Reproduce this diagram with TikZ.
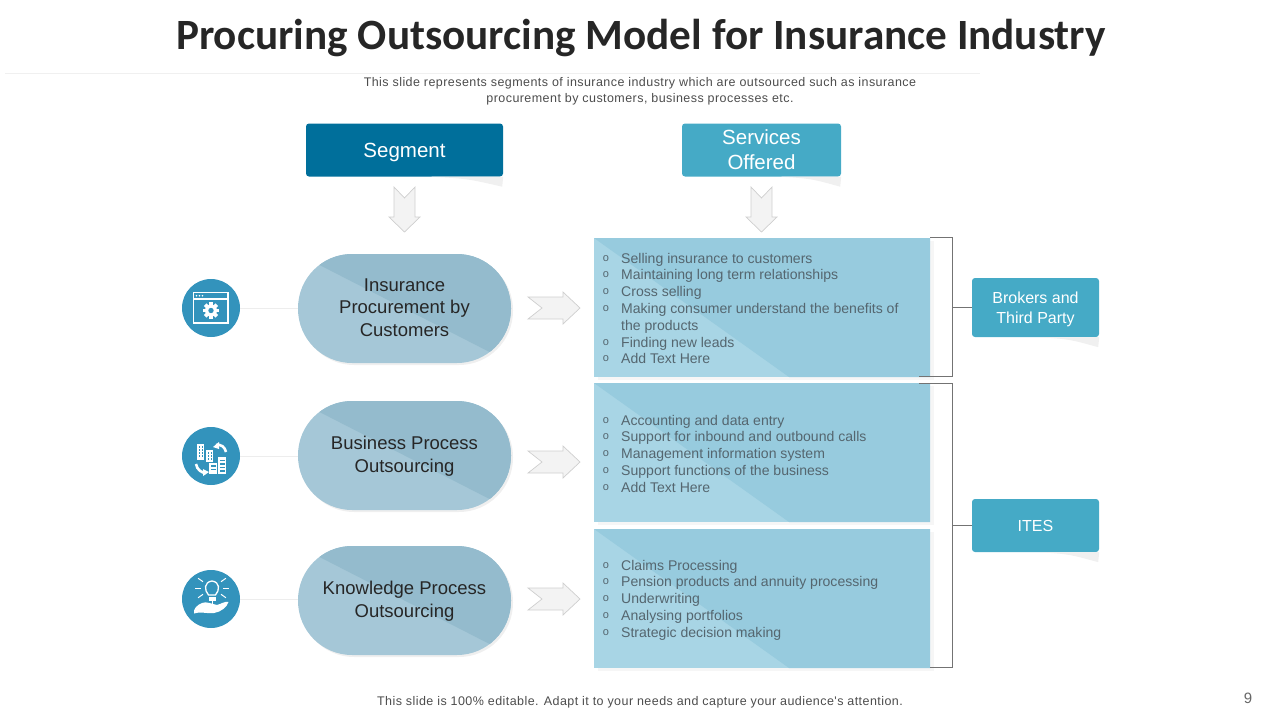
\documentclass[tikz,border=0pt]{standalone}
\usepackage{fontspec}
\setmainfont{Liberation Sans}
\newfontfamily\titlefont{Carlito}
\newfontfamily\notefont[LetterSpace=3.5]{Liberation Sans}
\usetikzlibrary{calc,shadows}

\definecolor{headdark}{HTML}{006F9B}
\definecolor{headlight}{HTML}{45AAC6}
\definecolor{iconblue}{HTML}{3393BC}
\definecolor{pilllight}{HTML}{A5C7D7}
\definecolor{pilldark}{HTML}{94BBCD}
\definecolor{panellight}{HTML}{A8D5E5}
\definecolor{paneldark}{HTML}{97CBDE}
\definecolor{arrowfill}{HTML}{F3F3F3}
\definecolor{arrowline}{HTML}{CFCFCF}
\definecolor{wedgegrey}{HTML}{F0F0F0}
\definecolor{listgrey}{HTML}{55666F}

\tikzset{
  headbox/.style={rounded corners=3pt, text=white, align=center, inner sep=0pt},
  segbox/.style={rounded corners=54pt, minimum width=213pt, minimum height=109pt, inner sep=0pt,
    fill=pilllight, align=center, font=\fontsize{18.5}{22.5}\selectfont, text=black!85, text depth=2pt,
    drop shadow={shadow xshift=2pt, shadow yshift=-2pt, fill=black!12},
    path picture={\fill[pilldark, sharp corners] (path picture bounding box.north west) -- (path picture bounding box.north east)
      -- (path picture bounding box.south east) -- cycle;}},
  panelbox/.style={minimum width=336pt, minimum height=139pt, inner sep=0pt, fill=panellight,
    drop shadow={shadow xshift=4pt, shadow yshift=-3pt, fill=black!7},
    path picture={\fill[paneldark] (path picture bounding box.north west) -- (path picture bounding box.north east)
      -- (path picture bounding box.south east) -- ($(path picture bounding box.south west)+(195pt,0)$) -- cycle;}},
  iconbox/.style={circle, fill=iconblue, minimum size=58pt, inner sep=0pt},
  linetext/.style={anchor=west, inner sep=0pt, text=listgrey, text height=12pt, text depth=2pt, font=\fontsize{14.05}{16}\selectfont},
  bullet/.style={inner sep=0pt, text=listgrey, font=\fontsize{11}{12}\selectfont},
  smalltext/.style={inner sep=0pt, text=black!70, font=\notefont\fontsize{12.5}{16.3}\selectfont, align=center},
  blockarrow/.style={fill=arrowfill, draw=arrowline, line width=0.7pt},
  lead/.style={draw=black!7, line width=0.7pt},
  brace/.style={draw=black!55, line width=0.7pt}
}

\begin{document}
\begin{tikzpicture}[x=1pt,y=-1pt]
\useasboundingbox (0,0) rectangle (1280,720);

% Title and notes
\node[inner sep=0pt, font=\titlefont\bfseries\fontsize{43.2}{50}\selectfont, text=black!85] (title) at (641,38) {Procuring Outsourcing Model for Insurance Industry};
\fill[black!6] (5,72.5) rectangle (980,73.5);
\node[smalltext] (note) at (640,91) {This slide represents segments of insurance industry which are outsourced such as insurance\\procurement by customers, business processes etc.};
\node[smalltext] (foot) at (640,702) {This slide is 100\% editable. Adapt it to your needs and capture your audience's attention.};
\node[inner sep=0pt, text=black!60, font=\fontsize{15}{18}\selectfont] (pagenum) at (1248,698) {9};

% Headers
\node[headbox, fill=headdark, minimum width=197pt, minimum height=53pt, text depth=0pt, font=\fontsize{20.5}{25}\selectfont] (seghead) at (404.5,150) {Segment};
\node[headbox, fill=headlight, minimum width=159pt, minimum height=53pt, font=\fontsize{20.5}{25}\selectfont] (svchead) at (761.5,150) {Services\\Offered};

% Right side boxes
\node[headbox, fill=headlight, minimum width=127pt, minimum height=59pt, text depth=0pt, font=\fontsize{16}{19.5}\selectfont] (brokers) at (1035.5,307.5) {Brokers and\\Third Party};
\node[headbox, fill=headlight, minimum width=127pt, minimum height=53pt, font=\fontsize{16}{19.5}\selectfont] (ites) at (1035.5,525.5) {ITES};

% Wedges below the boxes
\foreach \n/\w in {seghead/72,svchead/60,brokers/60,ites/60} {
  \fill[wedgegrey] ($(\n.south east)+(-\w,0)$) .. controls ($(\n.south east)+(-\w/2,2)$) .. ($(\n.south east)+(-1,10)$) -- (\n.south east) -- cycle;
}

% Down arrows
\foreach \x in {404.5,761.5} {
  \draw[blockarrow] (\x-10.5,187) -- (\x,198) -- (\x+10.5,187) -- (\x+10.5,217) -- (\x+15.5,217) -- (\x,232) -- (\x-15.5,217) -- (\x-10.5,217) -- cycle;
}

% Right arrows
\foreach \y in {308,462,599} {
  \draw[blockarrow] (528,\y-11) -- (563,\y-11) -- (563,\y-16) -- (580,\y) -- (563,\y+16) -- (563,\y+11) -- (528,\y+11) -- (542,\y) -- cycle;
}

% Rows
\foreach \i/\yi/\ys/\t in {1/308/308.5/{Insurance\\Procurement by\\Customers},2/456/455.5/{Business Process\\Outsourcing},3/599/600.5/{Knowledge Process\\Outsourcing}} {
  \node[iconbox] (icon\i) at (211,\yi) {};
  \node[segbox] (seg\i) at (404.5,\ys) {\t};
  \draw[lead] (icon\i) -- (seg\i.west |- icon\i);
}

% Panels
\node[panelbox] (panel1) at (762,307.5) {};
\node[panelbox] (panel2) at (762,452.5) {};
\node[panelbox] (panel3) at (762,598.5) {};

% Panel lines
\foreach \y/\t in {258/Selling insurance to customers,274/Maintaining long term relationships,291/Cross selling,308/Making consumer understand the benefits of,342/Finding new leads,358/Add Text Here,420/Accounting and data entry,436/Support for inbound and outbound calls,453/Management information system,470/Support functions of the business,487/Add Text Here,565/Claims Processing,581/Pension products and annuity processing,598/Underwriting,615/Analysing portfolios,632/Strategic decision making} {
  \node[bullet] (dot\y) at (606,\y+1) {o};
  \node[linetext] (line\y) at (621,\y) {\t};
}
\node[linetext] (line325) at (621,325) {the products};

% Brackets
\coordinate (b1a) at (930,237.5);
\coordinate (b1b) at (952.5,237.5);
\coordinate (b1c) at (952.5,376.5);
\coordinate (b1d) at (919,376.5);
\coordinate (b2a) at (919,383.5);
\coordinate (b2b) at (952.5,383.5);
\coordinate (b2c) at (952.5,667.5);
\coordinate (b2d) at (930,667.5);
\draw[brace] (b1a) -- (b1b) -- (b1c) -- (b1d);
\draw[brace] (b2a) -- (b2b) -- (b2c) -- (b2d);
\draw[brace] (brokers.west) -- (brokers.west -| b1b);
\draw[brace] (ites.west) -- (ites.west -| b2b);

% Window icon
\begin{scope}[white]
\draw[line width=1.6pt] (193.5,292.5) rectangle (228,323);
\draw[line width=1.2pt] (193.5,299) -- (228,299);
\foreach \x in {196.5,199.5,202.5} {
  \fill (\x,295.8) circle (0.9);
}
\fill (211,310.5) circle (6);
\foreach \a in {0,45,...,315} {
  \fill[rotate around={\a:(211,310.5)}] (209.2,302.3) rectangle (212.8,306);
}
\fill[iconblue] (211,310.5) circle (2.7);
\end{scope}

% Buildings icon
\begin{scope}[white]
\fill (197,444) rectangle (204,460);
\fill (206,450) rectangle (213,462);
\fill (209,463) rectangle (217,474);
\fill (218,457) rectangle (226,474);
\foreach \x in {198.5,201.5} {
  \foreach \y in {446,449,452,455} {
    \fill[iconblue] (\x,\y) rectangle +(1.6,1.6);
  }
}
\foreach \x in {207.5,210.5} {
  \foreach \y in {452,455,458} {
    \fill[iconblue] (\x,\y) rectangle +(1.6,1.6);
  }
}
\foreach \y in {459.5,463,466.5,470} {
  \fill[iconblue] (219.5,\y) rectangle +(5,1.5);
}
\foreach \y in {465,468.5} {
  \fill[iconblue] (210.5,\y) rectangle +(5,1.5);
}
\draw[line width=2.6pt] (216,445) .. controls (221,444) and (225,447) .. (226,452);
\fill (213,447) -- (219,442) -- (219,449) -- cycle;
\draw[line width=2.6pt] (196,464) .. controls (197,470) and (202,473) .. (206,473);
\fill (209,472) -- (203,476) -- (203,469) -- cycle;
\end{scope}

% Hand icon
\begin{scope}[white]
\draw[line width=1.3pt] (208.5,595) .. controls (204,590) and (204,582) .. (212,581) .. controls (220,582) and (220,590) .. (215.5,595) -- cycle;
\fill (208.5,596.5) rectangle (215.5,600.5);
\foreach \a in {0,35,-35,145,180,215,270} {
  \draw[line width=1pt, rotate around={\a:(212,588)}] (223,588) -- (229,588);
}
\fill (194,613.5) .. controls (193,609) and (197,605) .. (202,603) .. controls (206,601) and (212,604) .. (217,605) .. controls (221,604) and (225,601) .. (228.5,602) .. controls (227,607) and (221,612) .. (214,613) .. controls (207,614) and (200,611) .. (194,613.5) -- cycle;
\end{scope}

\end{tikzpicture}
\end{document}
